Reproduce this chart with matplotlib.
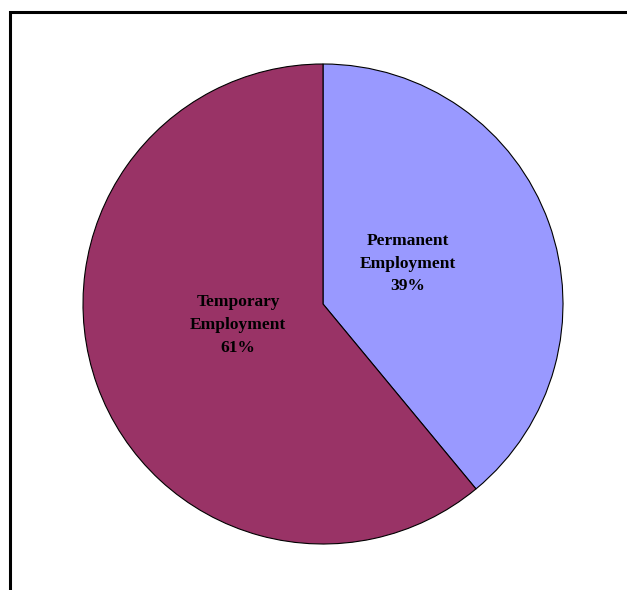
import numpy as np
import matplotlib
matplotlib.use("Agg")
import matplotlib.pyplot as plt
from matplotlib.lines import Line2D

# employment split
labels = ["Permanent\nEmployment", "Temporary\nEmployment"]
shares = [39, 61]
colors = ["#9999FF", "#993366"]

W, H = 627, 590
fig = plt.figure(figsize=(W / 100, H / 100), dpi=100)
fig.patch.set_facecolor("white")

# pie centred at (323, 304) px with radius 240 px
cx, cy, r = 323, 304, 240
ax = fig.add_axes([(cx - r) / W, (H - cy - r) / H, 2 * r / W, 2 * r / H])

wedges, _ = ax.pie(shares, colors=colors, startangle=90, counterclock=False,
                   wedgeprops=dict(edgecolor="black", linewidth=0.8),
                   radius=1.0)
ax.set_xlim(-1, 1)
ax.set_ylim(-1, 1)
ax.set_aspect("equal")

for w, lab, val in zip(wedges, labels, shares):
    mid = np.deg2rad((w.theta1 + w.theta2) / 2)
    ax.text(0.376 * np.cos(mid), 0.376 * np.sin(mid) + 0.04, f"{lab}\n{val}%",
            ha="center", va="center", family="Liberation Serif",
            fontweight="bold", fontsize=12.5, linespacing=1.55)

# outer frame (left and top edges only)
x0, y0 = 10 / W, 1 - 12 / H
fig.add_artist(Line2D([x0, x0, 1], [0, y0, y0], transform=fig.transFigure,
                      color="black", linewidth=2.2, solid_joinstyle="miter"))

fig.savefig("out.png", dpi=100)
